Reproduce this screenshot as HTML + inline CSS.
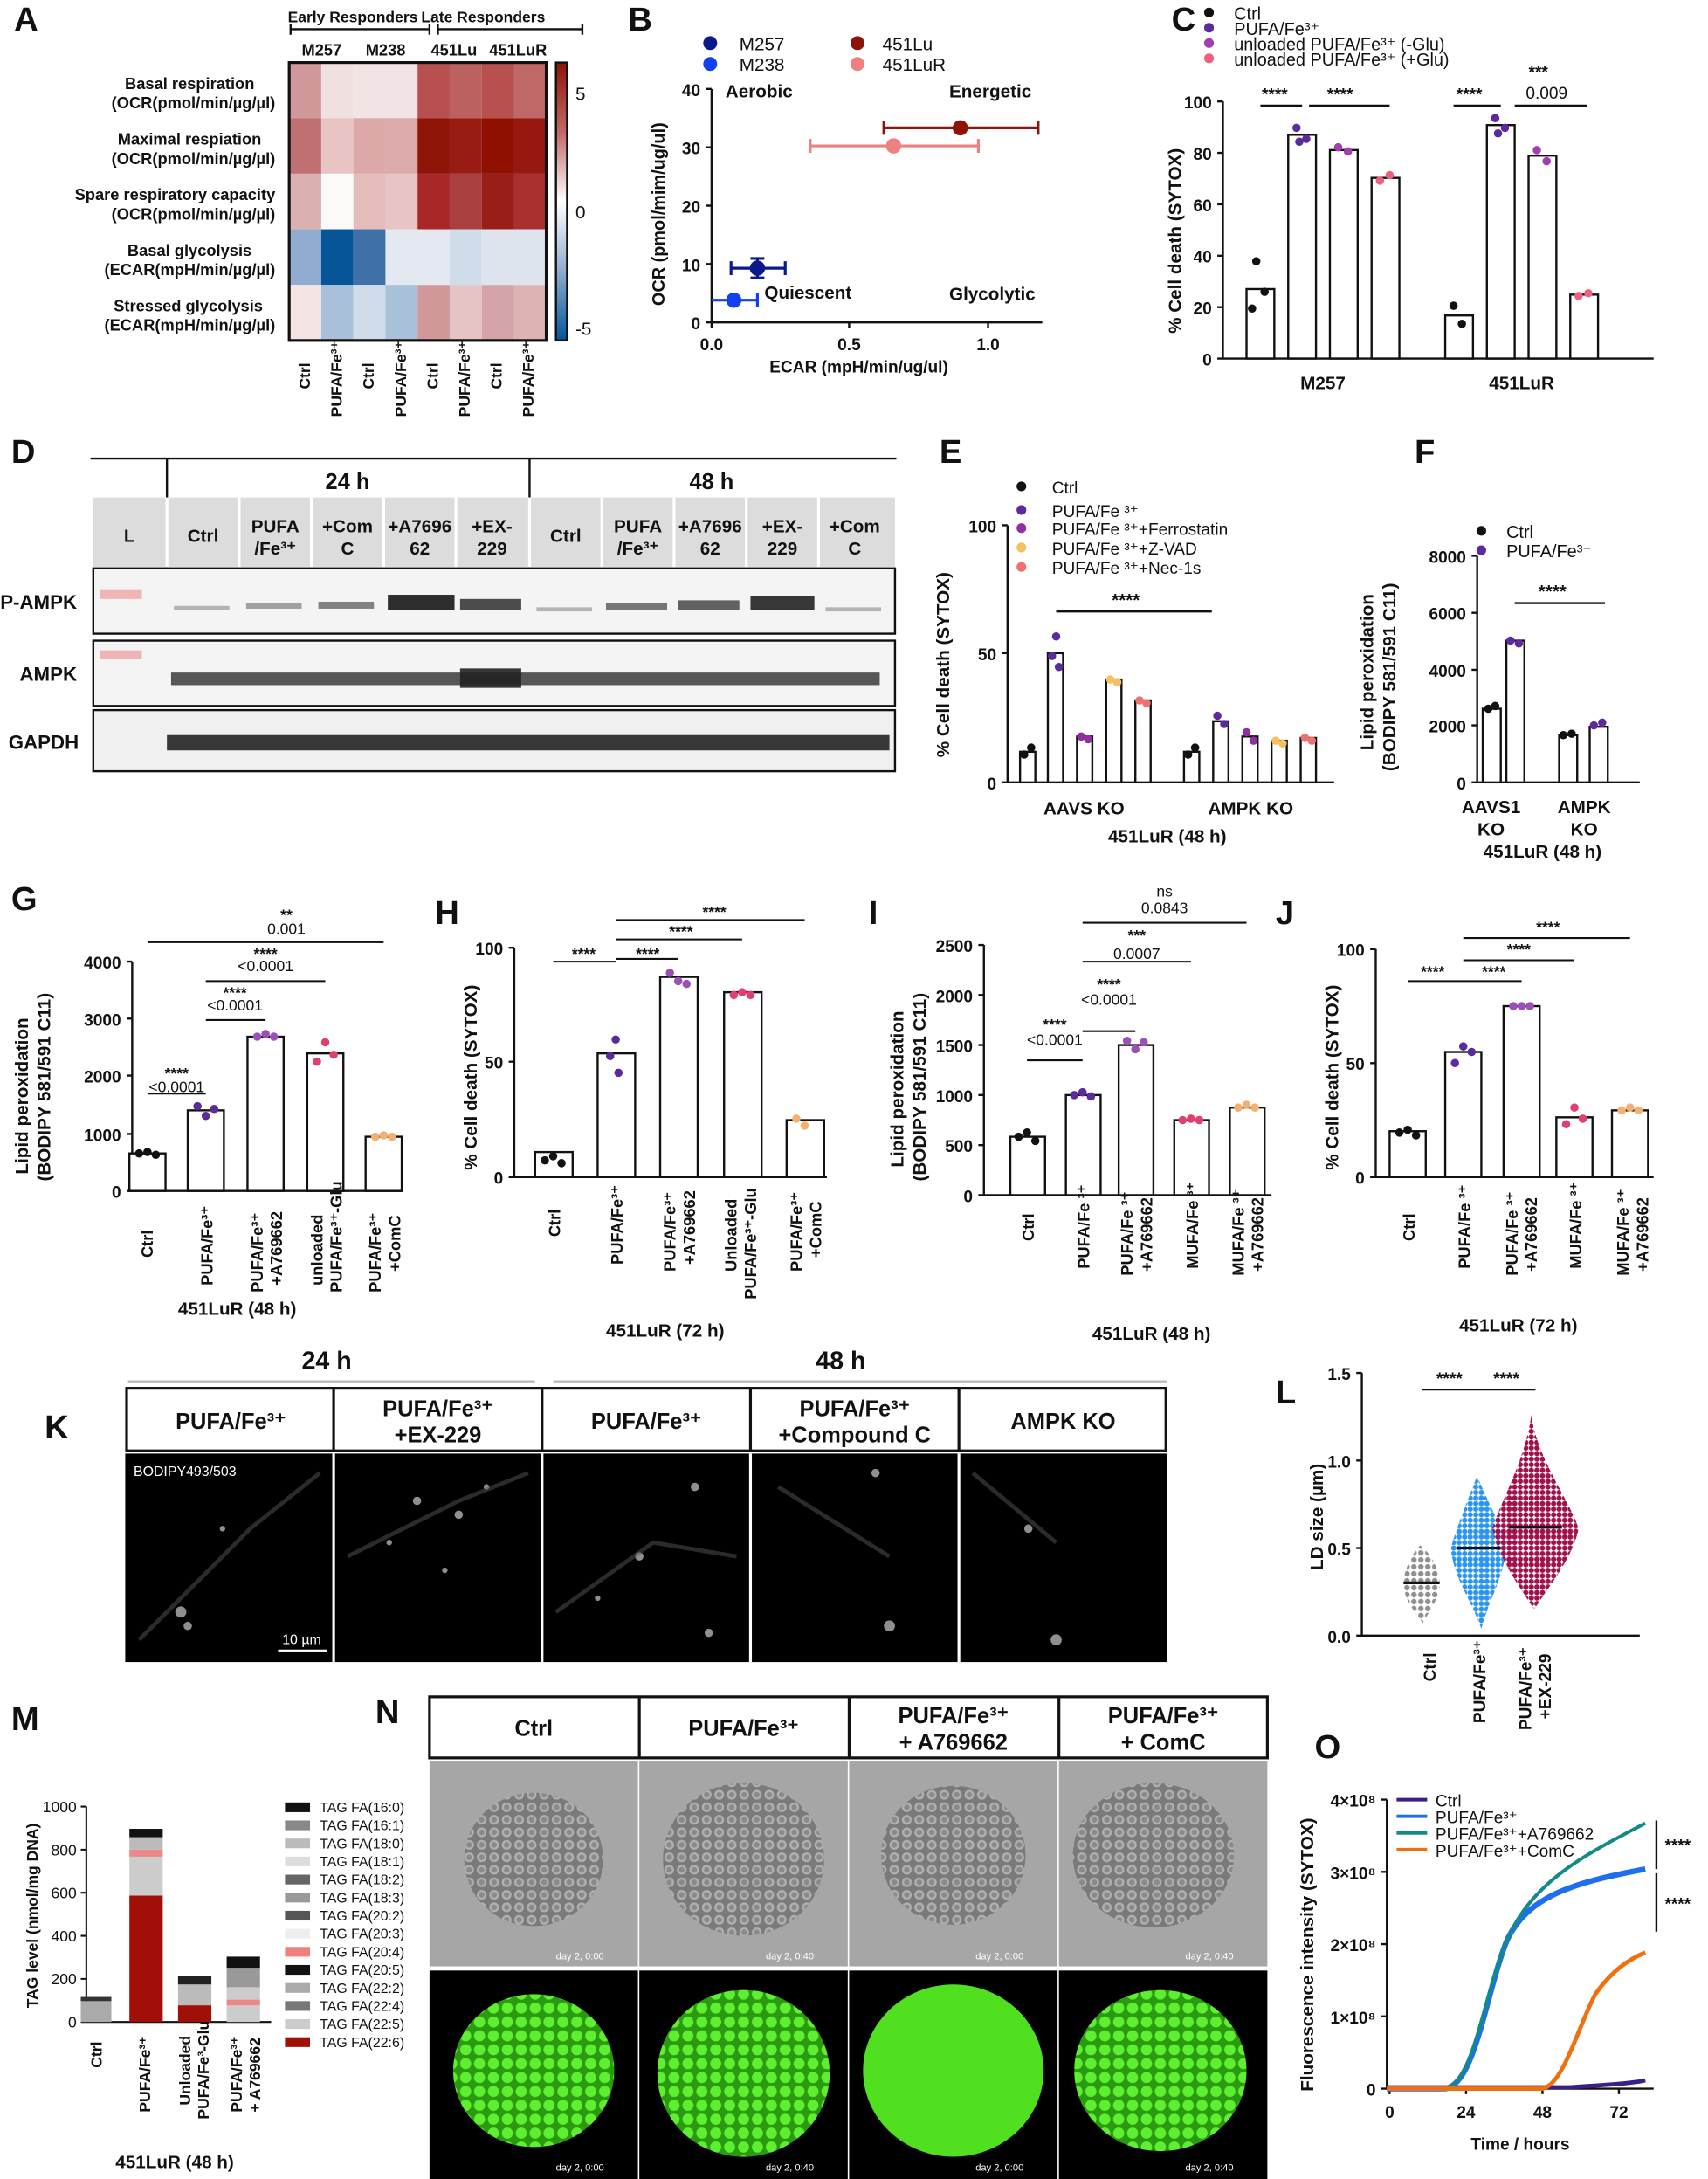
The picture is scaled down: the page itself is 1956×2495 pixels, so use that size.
<!DOCTYPE html>
<html><head><meta charset="utf-8"><style>
html,body{margin:0;padding:0;background:#fff}
svg{display:block}
text{font-family:"Liberation Sans",Arial,sans-serif;font-weight:bold;fill:#111}
.n{font-weight:normal}
</style></head><body>
<svg width="1956" height="2495" viewBox="0 0 1229 1568" xmlns="http://www.w3.org/2000/svg">
<defs>
<linearGradient id="cb" x1="0" y1="0" x2="0" y2="1">
<stop offset="0" stop-color="#8e1408"/><stop offset="0.25" stop-color="#c06868"/><stop offset="0.5" stop-color="#ffffff"/><stop offset="0.75" stop-color="#90acd0"/><stop offset="1" stop-color="#055598"/></linearGradient>
<pattern id="dg" width="5" height="5" patternUnits="userSpaceOnUse"><circle cx="2.5" cy="2.5" r="2" fill="#909090"/></pattern>
<pattern id="db" width="4" height="4" patternUnits="userSpaceOnUse"><circle cx="2" cy="2" r="1.9" fill="#2a95f0"/></pattern>
<pattern id="dm" width="4" height="4" patternUnits="userSpaceOnUse"><circle cx="2" cy="2" r="1.9" fill="#a0104a"/></pattern>
<pattern id="cell" width="9" height="9" patternUnits="userSpaceOnUse"><rect width="9" height="9" fill="#7a7a7a"/><circle cx="4.5" cy="4.5" r="3.5" fill="#b0b0b0"/><circle cx="4.5" cy="4.5" r="2" fill="#8a8a8a"/></pattern>
<pattern id="gcell" width="10" height="10" patternUnits="userSpaceOnUse"><rect width="10" height="10" fill="#2a9a10"/><circle cx="5" cy="5" r="4" fill="#5ef030"/></pattern>
</defs>
<!-- Panel letters -->
<g font-size="24"><text x="10" y="22">A</text><text x="452" y="22">B</text><text x="843" y="22">C</text><text x="8" y="333">D</text><text x="676" y="333">E</text><text x="1018" y="333">F</text><text x="8" y="655">G</text><text x="313" y="665">H</text><text x="625" y="665">I</text><text x="918" y="665">J</text><text x="32" y="1035">K</text><text x="918" y="1010">L</text><text x="8" y="1245">M</text><text x="270" y="1240">N</text><text x="946" y="1265">O</text></g>

<!-- Panel A -->
<g font-size="11"><text x="207" y="16">Early Responders</text><text x="303" y="16">Late Responders</text></g>
<path d="M209 21h100M209 17v8M309 17v8M315 21h104M315 17v8M419 17v8" stroke="#111" stroke-width="1.5" fill="none"/>
<g font-size="11.5"><text x="217" y="40">M257</text><text x="263" y="40">M238</text><text x="310" y="40">451Lu</text><text x="352" y="40">451LuR</text></g>
<g stroke="none">
<g transform="translate(208,45)">
<rect x="0" y="0" width="23.1" height="40" fill="#d09898"/><rect x="23.1" y="0" width="23.1" height="40" fill="#f0e0e0"/><rect x="46.2" y="0" width="23.1" height="40" fill="#f2e4e4"/><rect x="69.3" y="0" width="23.1" height="40" fill="#f2e4e4"/><rect x="92.4" y="0" width="23.1" height="40" fill="#b85050"/><rect x="115.5" y="0" width="23.1" height="40" fill="#bc6060"/><rect x="138.6" y="0" width="23.1" height="40" fill="#b85050"/><rect x="161.7" y="0" width="23.3" height="40" fill="#c06868"/>
<rect x="0" y="40" width="23.1" height="40" fill="#c07070"/><rect x="23.1" y="40" width="23.1" height="40" fill="#e8c4c4"/><rect x="46.2" y="40" width="23.1" height="40" fill="#dca8a8"/><rect x="69.3" y="40" width="23.1" height="40" fill="#dcaaaa"/><rect x="92.4" y="40" width="23.1" height="40" fill="#8e1408"/><rect x="115.5" y="40" width="23.1" height="40" fill="#981c14"/><rect x="138.6" y="40" width="23.1" height="40" fill="#901000"/><rect x="161.7" y="40" width="23.3" height="40" fill="#961810"/>
<rect x="0" y="80" width="23.1" height="40" fill="#dbb0b0"/><rect x="23.1" y="80" width="23.1" height="40" fill="#fcfaf8"/><rect x="46.2" y="80" width="23.1" height="40" fill="#e4bcbc"/><rect x="69.3" y="80" width="23.1" height="40" fill="#e8c4c4"/><rect x="92.4" y="80" width="23.1" height="40" fill="#a82828"/><rect x="115.5" y="80" width="23.1" height="40" fill="#a84040"/><rect x="138.6" y="80" width="23.1" height="40" fill="#9a1e18"/><rect x="161.7" y="80" width="23.3" height="40" fill="#a83030"/>
<rect x="0" y="120" width="23.1" height="40" fill="#90acd0"/><rect x="23.1" y="120" width="23.1" height="40" fill="#055598"/><rect x="46.2" y="120" width="23.1" height="40" fill="#4070a8"/><rect x="69.3" y="120" width="23.1" height="40" fill="#e4e8f0"/><rect x="92.4" y="120" width="23.1" height="40" fill="#e4e8f0"/><rect x="115.5" y="120" width="23.1" height="40" fill="#d0dcea"/><rect x="138.6" y="120" width="23.1" height="40" fill="#dde4ee"/><rect x="161.7" y="120" width="23.3" height="40" fill="#dde4ee"/>
<rect x="0" y="160" width="23.1" height="40" fill="#f4e4e4"/><rect x="23.1" y="160" width="23.1" height="40" fill="#a8c0d8"/><rect x="46.2" y="160" width="23.1" height="40" fill="#d0dcea"/><rect x="69.3" y="160" width="23.1" height="40" fill="#a8c0d8"/><rect x="92.4" y="160" width="23.1" height="40" fill="#d09898"/><rect x="115.5" y="160" width="23.1" height="40" fill="#e4c4c4"/><rect x="138.6" y="160" width="23.1" height="40" fill="#d4a4a8"/><rect x="161.7" y="160" width="23.3" height="40" fill="#dcb4b4"/>
<rect x="0" y="0" width="185" height="200" fill="none" stroke="#111" stroke-width="2"/>
</g></g>
<rect x="400" y="45" width="8" height="200" fill="url(#cb)" stroke="#111" stroke-width="1.5"/>
<g font-size="13" class="n"><text class="n" x="414" y="72">5</text><text class="n" x="414" y="157">0</text><text class="n" x="414" y="241">-5</text></g>
<g font-size="11.5" text-anchor="end">
<text x="183" y="64">Basal respiration</text><text x="198" y="78">(OCR(pmol/min/µg/µl)</text>
<text x="188" y="104">Maximal respiation</text><text x="198" y="118">(OCR(pmol/min/µg/µl)</text>
<text x="198" y="144">Spare respiratory capacity</text><text x="198" y="158">(OCR(pmol/min/µg/µl)</text>
<text x="181" y="184">Basal glycolysis</text><text x="198" y="198">(ECAR(mpH/min/µg/µl)</text>
<text x="189" y="224">Stressed glycolysis</text><text x="198" y="238">(ECAR(mpH/min/µg/µl)</text>
</g>
<g font-size="11">
<text transform="translate(223,280) rotate(-90)">Ctrl</text>
<text transform="translate(246,300) rotate(-90)">PUFA/Fe³⁺</text>
<text transform="translate(269,280) rotate(-90)">Ctrl</text>
<text transform="translate(292,300) rotate(-90)">PUFA/Fe³⁺</text>
<text transform="translate(315,280) rotate(-90)">Ctrl</text>
<text transform="translate(338,300) rotate(-90)">PUFA/Fe³⁺</text>
<text transform="translate(361,280) rotate(-90)">Ctrl</text>
<text transform="translate(384,300) rotate(-90)">PUFA/Fe³⁺</text>
</g>

<!-- Panel B -->
<circle cx="511" cy="31" r="5" fill="#0a1a8c"/><circle cx="511" cy="46" r="5" fill="#1040f0"/>
<circle cx="617" cy="31" r="5" fill="#8e1408"/><circle cx="617" cy="46" r="5" fill="#f08080"/>
<g font-size="13" class="n"><text class="n" x="532" y="36">M257</text><text class="n" x="532" y="51">M238</text><text class="n" x="635" y="36">451Lu</text><text class="n" x="635" y="51">451LuR</text></g>
<path d="M512 64V232H750M508 64h4M508 106h4M508 148h4M508 190h4M508 232h4M512 232v4M611 232v4M711 232v4" stroke="#111" stroke-width="1.5" fill="none"/>
<g font-size="12" text-anchor="end"><text x="504" y="69">40</text><text x="504" y="111">30</text><text x="504" y="153">20</text><text x="504" y="195">10</text><text x="504" y="237">0</text></g>
<g font-size="12" text-anchor="middle"><text x="512" y="252">0.0</text><text x="611" y="252">0.5</text><text x="711" y="252">1.0</text><text x="618" y="268">ECAR (mpH/min/ug/ul)</text></g>
<text font-size="12.5" transform="translate(478,220) rotate(-90)">OCR (pmol/mim/ug/ul)</text>
<g font-size="13"><text x="522" y="70">Aerobic</text><text x="683" y="70">Energetic</text><text x="550" y="215">Quiescent</text><text x="683" y="216">Glycolytic</text></g>
<path d="M636 92H747M636 87v10M747 87v10" stroke="#8e1408" stroke-width="2"/><circle cx="691" cy="92" r="5.5" fill="#8e1408"/>
<path d="M583 105H704M583 100v10M704 100v10" stroke="#f08080" stroke-width="2"/><circle cx="643" cy="105" r="5.5" fill="#f08080"/>
<path d="M526 193H565M526 188v10M565 188v10M545 186v14M540 186h10M540 200h10" stroke="#0a1a8c" stroke-width="2"/><circle cx="545" cy="193" r="5.5" fill="#0a1a8c"/>
<path d="M512 216H545M545 211v10M528 212v8" stroke="#1040f0" stroke-width="2"/><circle cx="528" cy="216" r="5.5" fill="#1040f0"/>

<!-- Panel C -->
<circle cx="870" cy="9" r="3.5" fill="#111"/><circle cx="870" cy="20" r="3.5" fill="#5b2a9c"/><circle cx="870" cy="31" r="3.5" fill="#a040b0"/><circle cx="870" cy="42" r="3.5" fill="#ee6080"/>
<g font-size="12.5" class="n"><text class="n" x="888" y="14">Ctrl</text><text class="n" x="888" y="25">PUFA/Fe³⁺</text><text class="n" x="888" y="36">unloaded PUFA/Fe³⁺ (-Glu)</text><text class="n" x="888" y="47">unloaded PUFA/Fe³⁺ (+Glu)</text></g>
<path d="M880 73V258H1190M876 73h4M876 110h4M876 147h4M876 184h4M876 221h4M876 258h4" stroke="#111" stroke-width="1.5" fill="none"/>
<g font-size="12" text-anchor="end"><text x="872" y="78">100</text><text x="872" y="115">80</text><text x="872" y="152">60</text><text x="872" y="189">40</text><text x="872" y="226">20</text><text x="872" y="263">0</text></g>
<text font-size="13" transform="translate(850,240) rotate(-90)">% Cell death (SYTOX)</text>
<g fill="#fff" stroke="#111" stroke-width="1.5">
<rect x="897" y="208" width="20" height="50"/><rect x="927" y="97" width="20" height="161"/><rect x="957" y="108" width="20" height="150"/><rect x="987" y="128" width="20" height="130"/>
<rect x="1040" y="227" width="20" height="31"/><rect x="1070" y="90" width="20" height="168"/><rect x="1100" y="112" width="20" height="146"/><rect x="1130" y="212" width="20" height="46"/>
</g>
<g fill="#111"><circle cx="904" cy="188" r="3"/><circle cx="910" cy="210" r="3"/><circle cx="901" cy="222" r="3"/><circle cx="1046" cy="220" r="3"/><circle cx="1052" cy="233" r="3"/></g>
<g fill="#5b2a9c"><circle cx="933" cy="92" r="3"/><circle cx="940" cy="100" r="3"/><circle cx="935" cy="102" r="3"/><circle cx="1076" cy="85" r="3"/><circle cx="1083" cy="92" r="3"/><circle cx="1078" cy="96" r="3"/></g>
<g fill="#a040b0"><circle cx="963" cy="106" r="3"/><circle cx="970" cy="109" r="3"/><circle cx="1106" cy="108" r="3"/><circle cx="1113" cy="116" r="3"/></g>
<g fill="#ee6080"><circle cx="993" cy="130" r="3"/><circle cx="1000" cy="126" r="3"/><circle cx="1136" cy="213" r="3"/><circle cx="1143" cy="211" r="3"/></g>
<path d="M907 76h30M942 76h58M1046 76h34M1090 76h52" stroke="#111" stroke-width="1.5"/>
<g font-size="12"><text x="908" y="72">****</text><text x="955" y="72">****</text><text x="1048" y="72">****</text><text x="1100" y="56">***</text><text class="n" x="1098" y="71">0.009</text></g>
<g font-size="13" text-anchor="middle"><text x="952" y="280">M257</text><text x="1095" y="280">451LuR</text></g>

<!-- Panel D -->
<path d="M65 330H645M120 330V408M381 330V408" stroke="#111" stroke-width="1.5"/>
<g font-size="16" text-anchor="middle"><text x="250" y="352">24 h</text><text x="512" y="352">48 h</text></g>
<rect x="67" y="358" width="577" height="50" fill="#dcdcdc"/>
<path d="M120 358V408M172 358V408M224 358V408M276 358V408M328 358V408M381 358V408M433 358V408M485 358V408M537 358V408M589 358V408" stroke="#fff" stroke-width="2"/>
<g font-size="13" text-anchor="middle"><text x="93" y="390">L</text><text x="146" y="390">Ctrl</text><text x="198" y="383">PUFA</text><text x="198" y="399">/Fe³⁺</text><text x="250" y="383">+Com</text><text x="250" y="399">C</text><text x="302" y="383">+A7696</text><text x="302" y="399">62</text><text x="354" y="383">+EX-</text><text x="354" y="399">229</text><text x="407" y="390">Ctrl</text><text x="459" y="383">PUFA</text><text x="459" y="399">/Fe³⁺</text><text x="511" y="383">+A7696</text><text x="511" y="399">62</text><text x="563" y="383">+EX-</text><text x="563" y="399">229</text><text x="615" y="383">+Com</text><text x="615" y="399">C</text></g>
<rect x="67" y="409" width="577" height="47" fill="#f4f4f4" stroke="#111" stroke-width="1.5"/>
<rect x="67" y="461" width="577" height="47" fill="#f4f4f4" stroke="#111" stroke-width="1.5"/>
<rect x="67" y="511" width="577" height="44" fill="#f0f0f0" stroke="#111" stroke-width="1.5"/>
<g font-size="14"><text x="0" y="438">P-AMPK</text><text x="14" y="490">AMPK</text><text x="6" y="539">GAPDH</text></g>
<g fill="#222">
<rect x="125" y="436" width="40" height="3" opacity="0.3"/><rect x="177" y="434" width="40" height="4" opacity="0.4"/><rect x="229" y="433" width="40" height="5" opacity="0.55"/><rect x="279" y="428" width="48" height="11" opacity="0.95"/><rect x="331" y="431" width="44" height="8" opacity="0.8"/><rect x="386" y="437" width="40" height="3" opacity="0.3"/><rect x="436" y="434" width="44" height="5" opacity="0.6"/><rect x="488" y="432" width="44" height="7" opacity="0.7"/><rect x="540" y="429" width="46" height="10" opacity="0.9"/><rect x="594" y="437" width="40" height="3" opacity="0.3"/>
<rect x="123" y="484" width="510" height="9" opacity="0.75"/><rect x="331" y="481" width="44" height="14" opacity="0.9"/>
<rect x="120" y="529" width="520" height="11" opacity="0.9"/>
</g>
<rect x="72" y="424" width="30" height="7" fill="#e88" opacity="0.6"/><rect x="72" y="468" width="30" height="6" fill="#e88" opacity="0.6"/>

<!-- Panel E -->
<g fill="#111"><circle cx="735" cy="350" r="3.5"/></g><circle cx="735" cy="367" r="3.5" fill="#5b2a9c"/><circle cx="735" cy="380" r="3.5" fill="#8e30a0"/><circle cx="735" cy="394" r="3.5" fill="#f5c060"/><circle cx="735" cy="408" r="3.5" fill="#f07070"/>
<g font-size="12" class="n"><text class="n" x="757" y="355">Ctrl</text><text class="n" x="757" y="372">PUFA/Fe ³⁺</text><text class="n" x="757" y="385">PUFA/Fe ³⁺+Ferrostatin</text><text class="n" x="757" y="399">PUFA/Fe ³⁺+Z-VAD</text><text class="n" x="757" y="413">PUFA/Fe ³⁺+Nec-1s</text></g>
<path d="M725 378V563H960M721 378h4M721 470h4M721 563h4" stroke="#111" stroke-width="1.5" fill="none"/>
<g font-size="12" text-anchor="end"><text x="717" y="383">100</text><text x="717" y="475">50</text><text x="717" y="568">0</text></g>
<text font-size="13" transform="translate(683,545) rotate(-90)">% Cell death (SYTOX)</text>
<path d="M760 440H872" stroke="#111" stroke-width="1.5"/><text font-size="13" x="800" y="436">****</text>
<g fill="#fff" stroke="#111" stroke-width="1.5">
<rect x="734" y="541" width="11" height="22"/><rect x="754" y="470" width="11" height="93"/><rect x="775" y="530" width="11" height="33"/><rect x="796" y="489" width="11" height="74"/><rect x="817" y="504" width="11" height="59"/>
<rect x="852" y="541" width="11" height="22"/><rect x="873" y="519" width="11" height="44"/><rect x="894" y="530" width="11" height="33"/><rect x="915" y="533" width="11" height="30"/><rect x="936" y="531" width="11" height="32"/>
</g>
<g fill="#111"><circle cx="737" cy="543" r="3"/><circle cx="742" cy="538" r="3"/><circle cx="855" cy="543" r="3"/><circle cx="860" cy="538" r="3"/></g>
<g fill="#5b2a9c"><circle cx="760" cy="458" r="3"/><circle cx="757" cy="472" r="3"/><circle cx="762" cy="480" r="3"/><circle cx="876" cy="515" r="3"/><circle cx="881" cy="521" r="3"/></g>
<g fill="#8e30a0"><circle cx="778" cy="530" r="3"/><circle cx="783" cy="532" r="3"/><circle cx="897" cy="527" r="3"/><circle cx="902" cy="533" r="3"/></g>
<g fill="#f5c060"><circle cx="799" cy="489" r="3"/><circle cx="804" cy="491" r="3"/><circle cx="918" cy="533" r="3"/><circle cx="923" cy="535" r="3"/></g>
<g fill="#f07070"><circle cx="820" cy="504" r="3"/><circle cx="825" cy="506" r="3"/><circle cx="939" cy="531" r="3"/><circle cx="944" cy="533" r="3"/></g>
<g font-size="13" text-anchor="middle"><text x="780" y="586">AAVS KO</text><text x="900" y="586">AMPK KO</text><text x="840" y="606">451LuR (48 h)</text></g>

<!-- Panel F -->
<circle cx="1066" cy="382" r="3.5" fill="#111"/><circle cx="1066" cy="396" r="3.5" fill="#5b2a9c"/>
<g font-size="12.5" class="n"><text class="n" x="1084" y="387">Ctrl</text><text class="n" x="1084" y="401">PUFA/Fe³⁺</text></g>
<path d="M1063 400V563H1180M1059 400h4M1059 441h4M1059 482h4M1059 522h4M1059 563h4" stroke="#111" stroke-width="1.5" fill="none"/>
<g font-size="12" text-anchor="end"><text x="1055" y="405">8000</text><text x="1055" y="446">6000</text><text x="1055" y="487">4000</text><text x="1055" y="527">2000</text><text x="1055" y="568">0</text></g>
<g font-size="13"><text transform="translate(988,540) rotate(-90)">Lipid peroxidation</text><text transform="translate(1004,555) rotate(-90)">(BODIPY 581/591 C11)</text></g>
<path d="M1090 434H1155" stroke="#111" stroke-width="1.5"/><text font-size="13" x="1107" y="430">****</text>
<g fill="#fff" stroke="#111" stroke-width="1.5"><rect x="1067" y="510" width="13" height="53"/><rect x="1084" y="461" width="13" height="102"/><rect x="1122" y="529" width="13" height="34"/><rect x="1144" y="523" width="13" height="40"/></g>
<g fill="#111"><circle cx="1071" cy="510" r="3"/><circle cx="1076" cy="508" r="3"/><circle cx="1125" cy="529" r="3"/><circle cx="1131" cy="528" r="3"/></g>
<g fill="#5b2a9c"><circle cx="1087" cy="461" r="3"/><circle cx="1093" cy="463" r="3"/><circle cx="1147" cy="522" r="3"/><circle cx="1153" cy="520" r="3"/></g>
<g font-size="13" text-anchor="middle"><text x="1073" y="585">AAVS1</text><text x="1073" y="601">KO</text><text x="1140" y="585">AMPK</text><text x="1140" y="601">KO</text><text x="1110" y="617">451LuR (48 h)</text></g>

<!-- Panel G -->
<path d="M95 692V857H290M91 692h4M91 733h4M91 774h4M91 816h4M91 857h4" stroke="#111" stroke-width="1.5" fill="none"/>
<g font-size="12" text-anchor="end"><text x="87" y="697">4000</text><text x="87" y="738">3000</text><text x="87" y="779">2000</text><text x="87" y="821">1000</text><text x="87" y="862">0</text></g>
<g font-size="13"><text transform="translate(20,845) rotate(-90)">Lipid peroxidation</text><text transform="translate(36,850) rotate(-90)">(BODIPY 581/591 C11)</text></g>
<g fill="#fff" stroke="#111" stroke-width="1.5"><rect x="93" y="830" width="26" height="27"/><rect x="135" y="799" width="26" height="58"/><rect x="178" y="746" width="26" height="111"/><rect x="221" y="758" width="26" height="99"/><rect x="263" y="818" width="26" height="39"/></g>
<g fill="#111"><circle cx="100" cy="830" r="3"/><circle cx="106" cy="829" r="3"/><circle cx="112" cy="831" r="3"/></g>
<g fill="#5b2a9c"><circle cx="142" cy="796" r="3"/><circle cx="148" cy="803" r="3"/><circle cx="154" cy="798" r="3"/></g>
<g fill="#9c4fb8"><circle cx="185" cy="746" r="3"/><circle cx="191" cy="744" r="3"/><circle cx="197" cy="746" r="3"/></g>
<g fill="#e04070"><circle cx="228" cy="764" r="3"/><circle cx="234" cy="750" r="3"/><circle cx="240" cy="759" r="3"/></g>
<g fill="#f5b070"><circle cx="270" cy="818" r="3"/><circle cx="276" cy="817" r="3"/><circle cx="282" cy="818" r="3"/></g>
<path d="M106 787H148M148 734H191M148 706H234M106 678H276" stroke="#111" stroke-width="1.3"/>
<g font-size="11" text-anchor="middle"><text x="127" y="776">****</text><text class="n" x="127" y="786">&lt;0.0001</text><text x="169" y="718">****</text><text class="n" x="169" y="727">&lt;0.0001</text><text x="191" y="690">****</text><text class="n" x="191" y="699">&lt;0.0001</text><text x="206" y="662">**</text><text class="n" x="206" y="672">0.001</text></g>
<g font-size="11.5"><text transform="translate(110,905) rotate(-90)">Ctrl</text><text transform="translate(153,925) rotate(-90)">PUFA/Fe³⁺</text><text transform="translate(189,930) rotate(-90)">PUFA/Fe³⁺</text><text transform="translate(203,925) rotate(-90)">+A769662</text><text transform="translate(232,925) rotate(-90)">unloaded</text><text transform="translate(246,930) rotate(-90)">PUFA/Fe³⁺-Glu</text><text transform="translate(274,930) rotate(-90)">PUFA/Fe³⁺</text><text transform="translate(288,915) rotate(-90)">+ComC</text></g>
<text font-size="13" x="128" y="946">451LuR (48 h)</text>

<!-- Panel H -->
<path d="M370 682V847H595M366 682h4M366 764h4M366 847h4" stroke="#111" stroke-width="1.5" fill="none"/>
<g font-size="12" text-anchor="end"><text x="362" y="687">100</text><text x="362" y="769">50</text><text x="362" y="852">0</text></g>
<text font-size="13" transform="translate(343,842) rotate(-90)">% Cell death (SYTOX)</text>
<g fill="#fff" stroke="#111" stroke-width="1.5"><rect x="385" y="829" width="27" height="18"/><rect x="430" y="758" width="27" height="89"/><rect x="475" y="703" width="27" height="144"/><rect x="521" y="714" width="27" height="133"/><rect x="566" y="806" width="27" height="41"/></g>
<g fill="#111"><circle cx="392" cy="835" r="3"/><circle cx="398" cy="832" r="3"/><circle cx="404" cy="837" r="3"/></g>
<g fill="#5b2a9c"><circle cx="443" cy="748" r="3"/><circle cx="439" cy="760" r="3"/><circle cx="445" cy="772" r="3"/></g>
<g fill="#9c4fb8"><circle cx="482" cy="700" r="3"/><circle cx="488" cy="706" r="3"/><circle cx="494" cy="708" r="3"/></g>
<g fill="#e04070"><circle cx="528" cy="716" r="3"/><circle cx="534" cy="714" r="3"/><circle cx="540" cy="716" r="3"/></g>
<g fill="#f5b070"><circle cx="573" cy="805" r="3"/><circle cx="579" cy="810" r="3"/></g>
<path d="M398 692H443M443 690H488M443 676H534M443 662H579" stroke="#111" stroke-width="1.3"/>
<g font-size="11" text-anchor="middle"><text x="420" y="690">****</text><text x="466" y="690">****</text><text x="490" y="674">****</text><text x="514" y="660">****</text></g>
<g font-size="11.5"><text transform="translate(403,890) rotate(-90)">Ctrl</text><text transform="translate(448,910) rotate(-90)">PUFA/Fe³⁺</text><text transform="translate(486,915) rotate(-90)">PUFA/Fe³⁺</text><text transform="translate(500,910) rotate(-90)">+A769662</text><text transform="translate(530,915) rotate(-90)">Unloaded</text><text transform="translate(544,935) rotate(-90)">PUFA/Fe³⁺-Glu</text><text transform="translate(577,915) rotate(-90)">PUFA/Fe³⁺</text><text transform="translate(591,905) rotate(-90)">+ComC</text></g>
<text font-size="13" x="436" y="962">451LuR (72 h)</text>

<!-- Panel I -->
<path d="M708 680V860H915M704 680h4M704 716h4M704 752h4M704 788h4M704 824h4M704 860h4" stroke="#111" stroke-width="1.5" fill="none"/>
<g font-size="12" text-anchor="end"><text x="700" y="685">2500</text><text x="700" y="721">2000</text><text x="700" y="757">1500</text><text x="700" y="793">1000</text><text x="700" y="829">500</text><text x="700" y="865">0</text></g>
<g font-size="13"><text transform="translate(650,840) rotate(-90)">Lipid peroxidation</text><text transform="translate(666,850) rotate(-90)">(BODIPY 581/591 C11)</text></g>
<g fill="#fff" stroke="#111" stroke-width="1.5"><rect x="727" y="818" width="25" height="42"/><rect x="767" y="788" width="25" height="72"/><rect x="805" y="752" width="25" height="108"/><rect x="845" y="806" width="25" height="54"/><rect x="885" y="797" width="25" height="63"/></g>
<g fill="#111"><circle cx="733" cy="818" r="3"/><circle cx="739" cy="815" r="3"/><circle cx="745" cy="821" r="3"/></g>
<g fill="#5b2a9c"><circle cx="773" cy="788" r="3"/><circle cx="779" cy="786" r="3"/><circle cx="785" cy="789" r="3"/></g>
<g fill="#9c4fb8"><circle cx="811" cy="749" r="3"/><circle cx="817" cy="755" r="3"/><circle cx="823" cy="750" r="3"/></g>
<g fill="#e04070"><circle cx="851" cy="806" r="3"/><circle cx="857" cy="805" r="3"/><circle cx="863" cy="806" r="3"/></g>
<g fill="#f5b070"><circle cx="891" cy="797" r="3"/><circle cx="897" cy="795" r="3"/><circle cx="903" cy="797" r="3"/></g>
<path d="M739 763H779M779 742H817M779 692H857M779 664H897" stroke="#111" stroke-width="1.3"/>
<g font-size="11" text-anchor="middle"><text x="759" y="741">****</text><text class="n" x="759" y="752">&lt;0.0001</text><text x="798" y="712">****</text><text class="n" x="798" y="723">&lt;0.0001</text><text x="818" y="677">***</text><text class="n" x="818" y="690">0.0007</text><text class="n" x="838" y="645">ns</text><text class="n" x="838" y="657">0.0843</text></g>
<g font-size="11.5"><text transform="translate(744,893) rotate(-90)">Ctrl</text><text transform="translate(784,913) rotate(-90)">PUFA/Fe ³⁺</text><text transform="translate(815,918) rotate(-90)">PUFA/Fe ³⁺</text><text transform="translate(829,915) rotate(-90)">+A769662</text><text transform="translate(862,913) rotate(-90)">MUFA/Fe ³⁺</text><text transform="translate(895,918) rotate(-90)">MUFA/Fe ³⁺</text><text transform="translate(909,915) rotate(-90)">+A769662</text></g>
<text font-size="13" x="786" y="964">451LuR (48 h)</text>

<!-- Panel J -->
<path d="M990 683V847H1190M986 683h4M986 765h4M986 847h4" stroke="#111" stroke-width="1.5" fill="none"/>
<g font-size="12" text-anchor="end"><text x="982" y="688">100</text><text x="982" y="770">50</text><text x="982" y="852">0</text></g>
<text font-size="13" transform="translate(963,842) rotate(-90)">% Cell death (SYTOX)</text>
<g fill="#fff" stroke="#111" stroke-width="1.5"><rect x="1000" y="814" width="26" height="33"/><rect x="1040" y="757" width="26" height="90"/><rect x="1082" y="724" width="26" height="123"/><rect x="1120" y="804" width="26" height="43"/><rect x="1160" y="799" width="26" height="48"/></g>
<g fill="#111"><circle cx="1007" cy="815" r="3"/><circle cx="1013" cy="813" r="3"/><circle cx="1019" cy="817" r="3"/></g>
<g fill="#5b2a9c"><circle cx="1047" cy="765" r="3"/><circle cx="1053" cy="753" r="3"/><circle cx="1059" cy="757" r="3"/></g>
<g fill="#9c4fb8"><circle cx="1089" cy="724" r="3"/><circle cx="1095" cy="724" r="3"/><circle cx="1101" cy="724" r="3"/></g>
<g fill="#e04070"><circle cx="1127" cy="809" r="3"/><circle cx="1133" cy="797" r="3"/><circle cx="1139" cy="805" r="3"/></g>
<g fill="#f5b070"><circle cx="1167" cy="799" r="3"/><circle cx="1173" cy="797" r="3"/><circle cx="1179" cy="799" r="3"/></g>
<path d="M1013 706H1053M1053 706H1095M1053 691H1133M1053 675H1173" stroke="#111" stroke-width="1.3"/>
<g font-size="11" text-anchor="middle"><text x="1031" y="703">****</text><text x="1075" y="703">****</text><text x="1093" y="687">****</text><text x="1114" y="671">****</text></g>
<g font-size="11.5"><text transform="translate(1018,893) rotate(-90)">Ctrl</text><text transform="translate(1058,913) rotate(-90)">PUFA/Fe ³⁺</text><text transform="translate(1092,918) rotate(-90)">PUFA/Fe ³⁺</text><text transform="translate(1106,915) rotate(-90)">+A769662</text><text transform="translate(1138,913) rotate(-90)">MUFA/Fe ³⁺</text><text transform="translate(1172,918) rotate(-90)">MUFA/Fe ³⁺</text><text transform="translate(1186,915) rotate(-90)">+A769662</text></g>
<text font-size="13" x="1050" y="958">451LuR (72 h)</text>

<!-- Panel K -->
<g font-size="18" text-anchor="middle"><text x="235" y="985">24 h</text><text x="605" y="985">48 h</text></g>
<path d="M92 994H385M398 994H840" stroke="#bbb" stroke-width="1.5"/>
<rect x="91" y="999" width="748" height="45" fill="#fff" stroke="#111" stroke-width="2"/>
<path d="M240 999v45M390 999v45M540 999v45M690 999v45" stroke="#111" stroke-width="2"/>
<g font-size="16" text-anchor="middle"><text x="166" y="1028">PUFA/Fe³⁺</text><text x="315" y="1019">PUFA/Fe³⁺</text><text x="315" y="1038">+EX-229</text><text x="465" y="1028">PUFA/Fe³⁺</text><text x="615" y="1019">PUFA/Fe³⁺</text><text x="615" y="1038">+Compound C</text><text x="765" y="1028">AMPK KO</text></g>
<rect x="90" y="1046" width="750" height="150" fill="#000"/>
<path d="M240 1046v150M390 1046v150M540 1046v150M690 1046v150" stroke="#fff" stroke-width="2"/>
<g fill="#ccc" opacity="0.7"><circle cx="130" cy="1160" r="4"/><circle cx="135" cy="1170" r="3"/><circle cx="160" cy="1100" r="2"/><circle cx="300" cy="1080" r="3"/><circle cx="330" cy="1090" r="3"/><circle cx="350" cy="1070" r="2"/><circle cx="280" cy="1110" r="2"/><circle cx="320" cy="1130" r="2"/><circle cx="460" cy="1120" r="3"/><circle cx="500" cy="1070" r="3"/><circle cx="430" cy="1150" r="2"/><circle cx="510" cy="1175" r="3"/><circle cx="630" cy="1060" r="3"/><circle cx="640" cy="1170" r="4"/><circle cx="740" cy="1100" r="3"/><circle cx="760" cy="1180" r="4"/></g>
<path d="M100 1180L180 1100L230 1060M250 1120L330 1080L380 1060M400 1160L470 1110L530 1120M560 1070L640 1120M700 1060L760 1110" stroke="#555" stroke-width="3" opacity="0.5" fill="none"/>
<text font-size="10" class="n" x="96" y="1062" style="fill:#fff">BODIPY493/503</text>
<text font-size="10" class="n" x="203" y="1183" style="fill:#fff">10 µm</text>
<rect x="200" y="1187" width="35" height="2" fill="#fff"/>

<!-- Panel L -->
<path d="M980 988V1177H1180M976 988h4M976 1051h4M976 1114h4M976 1177h4" stroke="#111" stroke-width="1.5" fill="none"/>
<g font-size="12" text-anchor="end"><text x="972" y="993">1.5</text><text x="972" y="1056">1.0</text><text x="972" y="1119">0.5</text><text x="972" y="1182">0.0</text></g>
<text font-size="13" transform="translate(952,1130) rotate(-90)">LD size (µm)</text>
<path d="M1022 1112C1030 1118 1036 1130 1036 1140C1036 1150 1028 1160 1024 1168C1018 1160 1010 1150 1010 1140C1010 1130 1016 1118 1022 1112Z" fill="url(#dg)"/>
<path d="M1063 1062C1070 1080 1082 1100 1084 1114C1082 1135 1072 1150 1066 1172C1058 1150 1046 1135 1044 1114C1048 1100 1056 1080 1063 1062Z" fill="url(#db)"/>
<path d="M1102 1018C1106 1050 1130 1080 1136 1100C1132 1120 1116 1140 1104 1158C1092 1140 1078 1120 1074 1100C1080 1080 1098 1050 1102 1018Z" fill="url(#dm)"/>
<path d="M1010 1139h26M1048 1114h32M1086 1099h38" stroke="#111" stroke-width="2"/>
<path d="M1023 1000H1063M1063 1000H1105" stroke="#111" stroke-width="1.3"/>
<g font-size="12" text-anchor="middle"><text x="1043" y="996">****</text><text x="1084" y="996">****</text></g>
<g font-size="12"><text transform="translate(1033,1210) rotate(-90)">Ctrl</text><text transform="translate(1069,1240) rotate(-90)">PUFA/Fe³⁺</text><text transform="translate(1102,1245) rotate(-90)">PUFA/Fe³⁺</text><text transform="translate(1116,1237) rotate(-90)">+EX-229</text></g>

<!-- Panel M -->
<path d="M62 1300V1455H195M58 1300h4M58 1331h4M58 1362h4M58 1393h4M58 1424h4M58 1455h4" stroke="#111" stroke-width="1.3" fill="none"/>
<g font-size="11" text-anchor="end" class="n"><text class="n" x="55" y="1304">1000</text><text class="n" x="55" y="1335">800</text><text class="n" x="55" y="1366">600</text><text class="n" x="55" y="1397">400</text><text class="n" x="55" y="1428">200</text><text class="n" x="55" y="1459">0</text></g>
<text font-size="11" transform="translate(27,1445) rotate(-90)">TAG level (nmol/mg DNA)</text>
<rect x="58" y="1440" width="22" height="15" fill="#aaa"/><rect x="58" y="1437" width="22" height="3" fill="#333"/>
<rect x="93" y="1364" width="24" height="91" fill="#a01008"/><rect x="93" y="1334" width="24" height="30" fill="#ccc"/><rect x="93" y="1331" width="24" height="5" fill="#e88"/><rect x="93" y="1322" width="24" height="9" fill="#bbb"/><rect x="93" y="1316" width="24" height="6" fill="#111"/>
<rect x="128" y="1443" width="24" height="12" fill="#a01008"/><rect x="128" y="1428" width="24" height="15" fill="#bbb"/><rect x="128" y="1422" width="24" height="6" fill="#222"/>
<rect x="163" y="1430" width="24" height="25" fill="#ccc"/><rect x="163" y="1439" width="24" height="4" fill="#e88"/><rect x="163" y="1416" width="24" height="14" fill="#999"/><rect x="163" y="1408" width="24" height="8" fill="#111"/>
<g font-size="10" class="n">
<rect x="205" y="1297" width="18" height="7" fill="#111"/><text class="n" x="230" y="1304">TAG FA(16:0)</text>
<rect x="205" y="1310" width="18" height="7" fill="#888"/><text class="n" x="230" y="1317">TAG FA(16:1)</text>
<rect x="205" y="1323" width="18" height="7" fill="#bbb"/><text class="n" x="230" y="1330">TAG FA(18:0)</text>
<rect x="205" y="1336" width="18" height="7" fill="#ddd"/><text class="n" x="230" y="1343">TAG FA(18:1)</text>
<rect x="205" y="1349" width="18" height="7" fill="#666"/><text class="n" x="230" y="1356">TAG FA(18:2)</text>
<rect x="205" y="1362" width="18" height="7" fill="#999"/><text class="n" x="230" y="1369">TAG FA(18:3)</text>
<rect x="205" y="1375" width="18" height="7" fill="#555"/><text class="n" x="230" y="1382">TAG FA(20:2)</text>
<rect x="205" y="1388" width="18" height="7" fill="#eee"/><text class="n" x="230" y="1395">TAG FA(20:3)</text>
<rect x="205" y="1401" width="18" height="7" fill="#f08080"/><text class="n" x="230" y="1408">TAG FA(20:4)</text>
<rect x="205" y="1414" width="18" height="7" fill="#111"/><text class="n" x="230" y="1421">TAG FA(20:5)</text>
<rect x="205" y="1427" width="18" height="7" fill="#aaa"/><text class="n" x="230" y="1434">TAG FA(22:2)</text>
<rect x="205" y="1440" width="18" height="7" fill="#777"/><text class="n" x="230" y="1447">TAG FA(22:4)</text>
<rect x="205" y="1453" width="18" height="7" fill="#ccc"/><text class="n" x="230" y="1460">TAG FA(22:5)</text>
<rect x="205" y="1466" width="18" height="7" fill="#a01008"/><text class="n" x="230" y="1473">TAG FA(22:6)</text></g>
<g font-size="11"><text transform="translate(73,1488) rotate(-90)">Ctrl</text><text transform="translate(108,1520) rotate(-90)">PUFA/Fe³⁺</text><text transform="translate(137,1515) rotate(-90)">Unloaded</text><text transform="translate(150,1525) rotate(-90)">PUFA/Fe³-Glu</text><text transform="translate(174,1520) rotate(-90)">PUFA/Fe³⁺</text><text transform="translate(187,1520) rotate(-90)">+ A769662</text></g>
<text font-size="13" x="83" y="1560">451LuR (48 h)</text>

<!-- Panel N -->
<rect x="309" y="1221" width="603" height="44" fill="#fff" stroke="#111" stroke-width="2"/>
<path d="M460 1221v44M611 1221v44M762 1221v44" stroke="#111" stroke-width="2"/>
<g font-size="16" text-anchor="middle"><text x="384" y="1249">Ctrl</text><text x="535" y="1249">PUFA/Fe³⁺</text><text x="686" y="1240">PUFA/Fe³⁺</text><text x="686" y="1259">+ A769662</text><text x="837" y="1240">PUFA/Fe³⁺</text><text x="837" y="1259">+ ComC</text></g>
<g>
<rect x="309" y="1267" width="150" height="148" fill="#a6a6a6"/><rect x="460" y="1267" width="150" height="148" fill="#a6a6a6"/><rect x="611" y="1267" width="150" height="148" fill="#a6a6a6"/><rect x="762" y="1267" width="150" height="148" fill="#a6a6a6"/>
<ellipse cx="384" cy="1338" rx="50" ry="48" fill="url(#cell)"/><ellipse cx="535" cy="1338" rx="58" ry="55" fill="url(#cell)"/><ellipse cx="686" cy="1335" rx="52" ry="50" fill="url(#cell)"/><ellipse cx="830" cy="1335" rx="58" ry="52" fill="url(#cell)"/>
<rect x="309" y="1418" width="150" height="150" fill="#000"/><rect x="460" y="1418" width="150" height="150" fill="#000"/><rect x="611" y="1418" width="150" height="150" fill="#000"/><rect x="762" y="1418" width="150" height="150" fill="#000"/>
<ellipse cx="384" cy="1490" rx="58" ry="55" fill="url(#gcell)"/><ellipse cx="535" cy="1492" rx="62" ry="60" fill="url(#gcell)"/><ellipse cx="686" cy="1490" rx="65" ry="62" fill="#50e020"/><ellipse cx="835" cy="1490" rx="62" ry="58" fill="url(#gcell)"/>
</g>
<g font-size="7" class="n" style="fill:#fff"><text class="n" x="400" y="1410" style="fill:#fff">day 2, 0:00</text><text class="n" x="551" y="1410" style="fill:#fff">day 2, 0:40</text><text class="n" x="702" y="1410" style="fill:#fff">day 2, 0:00</text><text class="n" x="853" y="1410" style="fill:#fff">day 2, 0:40</text><text class="n" x="400" y="1562" style="fill:#fff">day 2, 0:00</text><text class="n" x="551" y="1562" style="fill:#fff">day 2, 0:40</text><text class="n" x="702" y="1562" style="fill:#fff">day 2, 0:00</text><text class="n" x="853" y="1562" style="fill:#fff">day 2, 0:40</text></g>

<!-- Panel O -->
<path d="M998 1295V1503H1190M994 1295h4M994 1347h4M994 1399h4M994 1451h4M994 1503h4M1000 1503v4M1055 1503v4M1110 1503v4M1165 1503v4" stroke="#111" stroke-width="1.5" fill="none"/>
<g font-size="12" text-anchor="end"><text x="990" y="1300">4×10⁸</text><text x="990" y="1352">3×10⁸</text><text x="990" y="1404">2×10⁸</text><text x="990" y="1456">1×10⁸</text><text x="990" y="1508">0</text></g>
<g font-size="12" text-anchor="middle"><text x="1000" y="1524">0</text><text x="1055" y="1524">24</text><text x="1110" y="1524">48</text><text x="1165" y="1524">72</text><text x="1094" y="1547">Time / hours</text></g>
<text font-size="13" transform="translate(945,1505) rotate(-90)">Fluorescence intensity (SYTOX)</text>
<path d="M998 1502H1130C1160 1500 1175 1499 1184 1497" stroke="#3a1e8a" stroke-width="3" fill="none"/>
<path d="M998 1503H1040C1062 1500 1070 1430 1085 1395C1100 1365 1130 1355 1184 1345" stroke="#1e6ef0" stroke-width="4" fill="none"/>
<path d="M998 1503H1040C1060 1500 1068 1435 1083 1400C1100 1355 1140 1335 1184 1312" stroke="#138a88" stroke-width="2.5" fill="none"/>
<path d="M998 1503H1110C1125 1500 1135 1460 1148 1435C1160 1418 1172 1410 1184 1405" stroke="#f07010" stroke-width="3" fill="none"/>
<g stroke-width="2.5"><path d="M1005 1295h22" stroke="#3a1e8a"/><path d="M1005 1307h22" stroke="#1e6ef0"/><path d="M1005 1319h22" stroke="#138a88"/><path d="M1005 1331h22" stroke="#f07010"/></g>
<g font-size="12" class="n"><text class="n" x="1033" y="1300">Ctrl</text><text class="n" x="1033" y="1312">PUFA/Fe³⁺</text><text class="n" x="1033" y="1324">PUFA/Fe³⁺+A769662</text><text class="n" x="1033" y="1336">PUFA/Fe³⁺+ComC</text></g>
<path d="M1192 1310v35M1192 1348v42" stroke="#111" stroke-width="1.5"/>
<g font-size="12"><text x="1198" y="1332">****</text><text x="1198" y="1374">****</text></g>
</svg>
</body></html>
